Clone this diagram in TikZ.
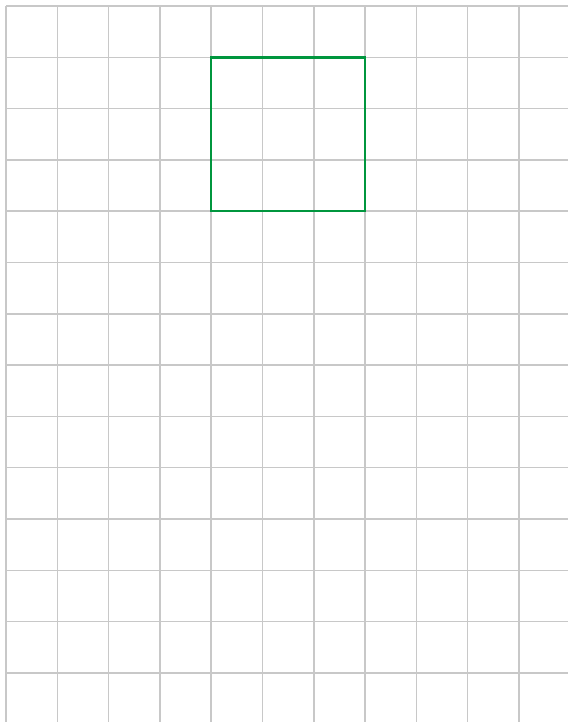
\documentclass[tikz,border=0pt]{standalone}
\usepackage{xcolor}
\usepackage{tikz}
\definecolor{gridgray}{RGB}{200,200,200}
\definecolor{squaregreen}{RGB}{0,150,62}

\begin{document}
\begin{tikzpicture}[x=51.3pt, y=-51.3pt]
  % Page frame (grid starts a little in from the top left)
  \useasboundingbox (-0.117,-0.117) rectangle (10.955,13.957);
  % Grid lines
  \foreach \i in {0,...,10}
    \draw[gridgray, line width=1.5pt] (\i,0) -- (\i,13.957);
  \foreach \j in {0,...,13}
    \draw[gridgray, line width=1.5pt] (0,\j) -- (10.955,\j);
  % Green square, three cells by three
  \draw[squaregreen, line width=2.4pt] (4,1) rectangle (7,4);
\end{tikzpicture}
\end{document}
